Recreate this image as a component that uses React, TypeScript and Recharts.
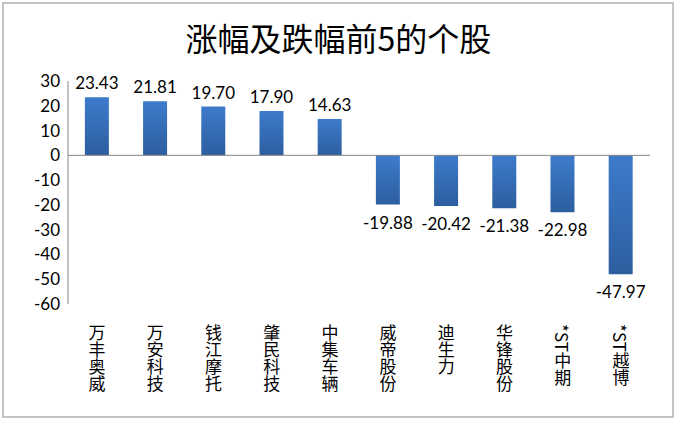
import React from 'react';
import { BarChart, Bar, XAxis, YAxis, ReferenceLine, LabelList } from 'recharts';

const categories = ['万丰奥威', '万安科技', '钱江摩托', '肇民科技', '中集车辆', '威帝股份', '迪生力', '华锋股份', '*ST中期', '*ST越博'];
const changes = [23.43, 21.81, 19.7, 17.9, 14.63, -19.88, -20.42, -21.38, -22.98, -47.97];
const yTicks = [30, 20, 10, 0, -10, -20, -30, -40, -50, -60];

const data = categories.map((name, i) => ({ name, value: changes[i] }));

const numFont = 'Lato, "Open Sans", sans-serif';
const cjkFont = '"Noto Sans CJK SC", sans-serif';

const CategoryTick = ({ x, y, payload }: any) => {
  return (
    <text
      x={x}
      y={y + 12}
      fill="#000"
      fontSize={17}
      fontFamily={cjkFont}
      style={{ writingMode: 'vertical-rl', textOrientation: 'mixed' } as any}
    >
      {payload.value}
    </text>
  );
};

const ValueLabel = ({ x, y, width, height, value }: any) => {
  const neg = value < 0;
  const cx = x + width / 2;
  const top = Math.min(y, y + height);
  const bottom = Math.max(y, y + height);
  const ty = neg ? bottom + 24 : top - 8;
  return (
    <text x={cx} y={ty} textAnchor="middle" fontSize={17} fontFamily={numFont} fill="#000">
      {value.toFixed(2)}
    </text>
  );
};

export default function App() {
  return (
    <div style={{ position: 'absolute', left: 0, top: 0, width: 677, height: 422, background: '#fff' }}>
      <div
        style={{
          position: 'absolute',
          left: 2,
          top: 2,
          width: 668,
          height: 412,
          border: '2px solid #c4c4c4',
        }}
      />
      <div
        style={{
          position: 'absolute',
          left: 0,
          top: 14,
          width: 677,
          textAlign: 'center',
          fontFamily: cjkFont,
          fontSize: 32,
          color: '#000',
        }}
      >
        涨幅及跌幅前5的个股
      </div>
      <BarChart
        width={677}
        height={422}
        data={data}
        margin={{ top: 81, right: 27, left: 18, bottom: 8 }}
        barCategoryGap="29%"
        style={{ position: 'absolute', left: 0, top: 0 }}
      >
        <defs>
          <linearGradient id="barFill" x1="0" y1="0" x2="0" y2="1">
            <stop offset="0%" stopColor="#3d7bcb" />
            <stop offset="100%" stopColor="#2d5e9f" />
          </linearGradient>
        </defs>
        <XAxis
          dataKey="name"
          axisLine={false}
          tickLine={false}
          interval={0}
          height={110}
          tick={<CategoryTick />}
        />
        <YAxis
          domain={[-60, 30]}
          ticks={yTicks}
          interval={0}
          width={50}
          axisLine={{ stroke: '#868686' }}
          tickLine={false}
          tick={{ fill: '#000', fontSize: 17, fontFamily: numFont }}
        />
        <ReferenceLine y={0} stroke="#868686" />
        <Bar dataKey="value" fill="url(#barFill)" isAnimationActive={false}>
          <LabelList dataKey="value" content={<ValueLabel />} />
        </Bar>
      </BarChart>
    </div>
  );
}
